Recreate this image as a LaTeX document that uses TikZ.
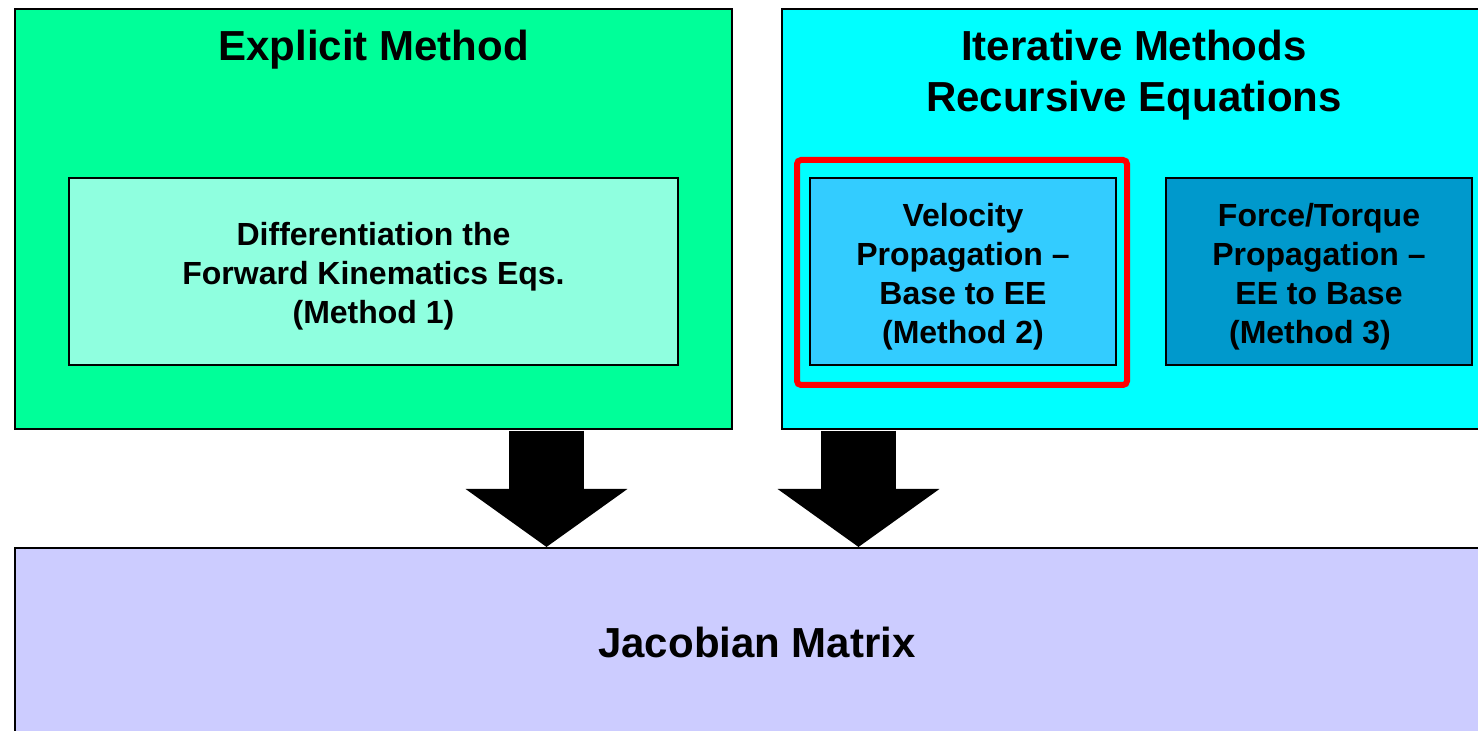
\documentclass[tikz,border=0pt]{standalone}
\usepackage{fontspec}
\setmainfont{Liberation Sans}
\usetikzlibrary{arrows.meta, positioning, calc}
\usepackage{xcolor}

\definecolor{explicitgreen}{RGB}{0,255,153}
\definecolor{methodaqua}{RGB}{143,255,223}
\definecolor{iterativecyan}{RGB}{0,255,255}
\definecolor{velocityblue}{RGB}{51,204,255}
\definecolor{forceblue}{RGB}{0,153,204}
\definecolor{jacobianlilac}{RGB}{204,204,255}
\newcommand{\methodstrut}{\rule{0pt}{16.5pt}}

\begin{document}
\begin{tikzpicture}[x=0.5pt, y=-0.5pt,
  groupbox/.style={draw=black, line width=1pt, minimum width=#1, minimum height=210pt, inner sep=0pt},
  methodbox/.style={draw=black, line width=0.8pt, minimum width=#1, minimum height=93.5pt,
    inner sep=0pt, align=center, font=\bfseries\fontsize{16}{19.5}\selectfont},
  titletext/.style={align=center, font=\bfseries\fontsize{21}{25.5}\selectfont},
  bigarrow/.style={line width=37.5pt, -{Triangle[width=79.5pt, length=29pt]}}]
  \useasboundingbox (0,0) rectangle (1478,731);

  % the two groups of methods
  \node[groupbox=358.5pt, fill=explicitgreen] (explicit) at (373.5,219) {};
  \node[groupbox=352pt, fill=iterativecyan] (iterative) at (1134,219) {};
  \node[titletext] (explicit title) at (373.5,50) {Explicit Method};
  \node[titletext] (iterative title) at (1134,75) {Iterative Methods\\Recursive Equations};

  % the three methods
  \node[methodbox=304.5pt, fill=methodaqua] (method1) at (373.5,271.5)
    {\methodstrut Differentiation the\\Forward Kinematics Eqs.\\(Method 1)};
  \node[draw=red, line width=3pt, rounded corners=2pt, minimum width=165pt, minimum height=112.5pt]
    (highlight) at (962,272.5) {};
  \node[methodbox=153pt, fill=velocityblue] (method2) at (963,271.5)
    {\methodstrut Velocity\\Propagation --\\Base to EE\\(Method 2)};
  \node[methodbox=153pt, fill=forceblue] (method3) at (1319,271.5)
    {\methodstrut Force/Torque\\Propagation --\\EE to Base\\(Method 3)\hspace*{9pt}};

  % result
  \node[draw=black, line width=1pt, fill=jacobianlilac, minimum width=742pt, minimum height=94pt,
    titletext] (jacobian) at (757,642) {Jacobian Matrix};

  % block arrows into the jacobian
  \draw[bigarrow] ([xshift=86.5pt, yshift=-0.5pt]explicit.south)
    -- ([xshift=86.5pt]explicit.south |- jacobian.north);
  \draw[bigarrow] ([xshift=38.75pt, yshift=-0.5pt]iterative.south west)
    -- ([xshift=38.75pt]iterative.south west |- jacobian.north);
\end{tikzpicture}
\end{document}
